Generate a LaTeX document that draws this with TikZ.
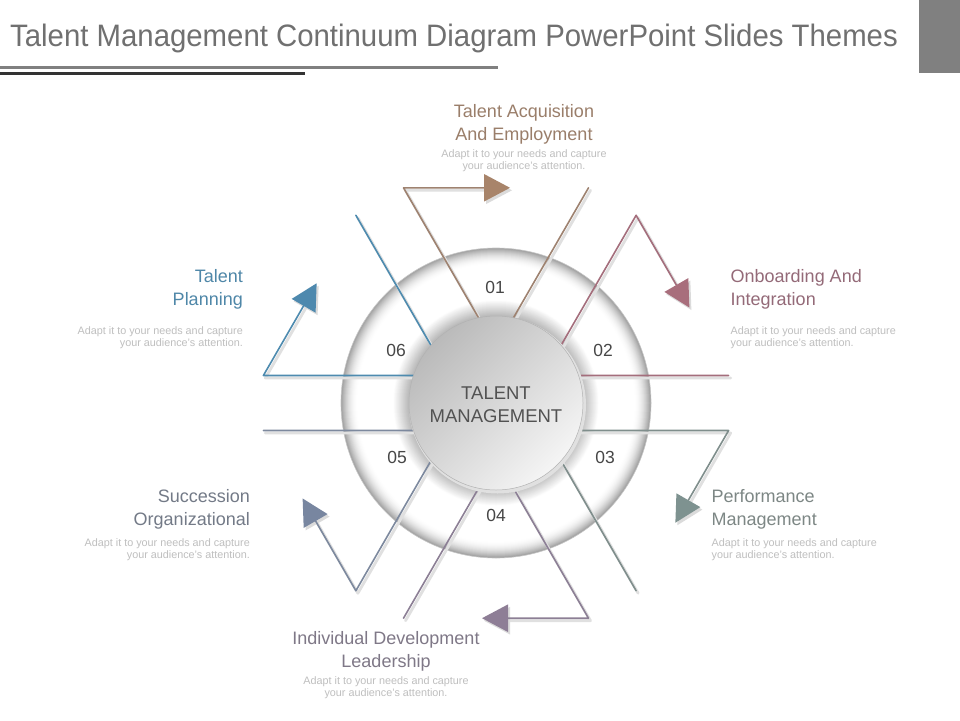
\documentclass[tikz,border=0pt]{standalone}
\usepackage{fontspec}
\setmainfont{Liberation Sans}
\definecolor{c1}{HTML}{9E8270}
\definecolor{c2}{HTML}{A46E7C}
\definecolor{c3}{HTML}{7F8E8C}
\definecolor{c4}{HTML}{8C7F95}
\definecolor{c5}{HTML}{7D899E}
\definecolor{c6}{HTML}{4E8BAF}
\definecolor{a1}{HTML}{A8846A}
\definecolor{a2}{HTML}{A86E7C}
\definecolor{a3}{HTML}{7E9290}
\definecolor{a4}{HTML}{8E7E96}
\definecolor{a5}{HTML}{7886A0}
\definecolor{a6}{HTML}{4E89AE}
\definecolor{t1}{HTML}{9A7E6A}
\definecolor{t2}{HTML}{946A78}
\definecolor{t3}{HTML}{7D8785}
\definecolor{t4}{HTML}{7F7887}
\definecolor{t5}{HTML}{737A87}
\definecolor{t6}{HTML}{4F87A8}
\tikzset{
  ttl/.style={font=\fontsize{18}{23}\selectfont, inner sep=0},
  dsc/.style={font=\fontsize{10.8}{12.5}\selectfont, text=black!25, inner sep=0},
  num/.style={font=\fontsize{17.5}{20}\selectfont, text=black!72, inner sep=0},
  seg/.style={line width=1.6pt, line join=round, line cap=round},
  segshadow/.style={line width=2.8pt, line join=round, line cap=round, draw=black!12},
}
\begin{document}
\begin{tikzpicture}[x=1pt,y=-1pt]
\useasboundingbox (0,0) rectangle (960,720);
\fill[white] (0,0) rectangle (960,720);
% header
\node[anchor=base west, text=black!56, inner sep=0] (title) at (10,46)
  {\scalebox{0.947}[1]{\fontsize{31}{31}\selectfont Talent Management Continuum Diagram PowerPoint Slides Themes}};
\fill[black!50] (0,66) rectangle (498,68.5);
\fill[black!80] (0,71.5) rectangle (305,75);
\fill[black!50] (919,0) rectangle (960,73);
% ring, drawn as concentric fills
\foreach \i in {0,...,134}{
  \pgfmathsetmacro\rr{155-\i*0.5}
  \pgfmathsetmacro\aa{max(0,(\rr-138)/17)}
  \pgfmathsetmacro\bb{max(0,(103-\rr)/16)}
  \pgfmathsetmacro\vv{38*\aa*\aa + 28*\bb}
  \fill[black!\vv] (496,403) circle[radius=\rr];
}
\draw[black!22, line width=0.6pt] (496,403) circle[radius=155];
% sectors
\foreach \k/\lc/\ac in {1/c1/a1,2/c2/a2,3/c3/a3,4/c4/a4,5/c5/a5,6/c6/a6}{
  \begin{scope}[shift={(498,405.5)}, rotate=-60*(\k-1)]
    \draw[segshadow] (0,-55) -- (-92.5,-215.2) -- (-12,-215.2);
    \draw[segshadow] (0,-55) -- (92.5,-215.2);
    \fill[black!14] (-12,-229) -- (14,-215.2) -- (-12,-201.4) -- cycle;
  \end{scope}
  \begin{scope}[shift={(496,403)}, rotate=-60*(\k-1)]
    \coordinate (apex\k) at (0,-55);
    \coordinate (left\k) at (-92.5,-215.2);
    \coordinate (right\k) at (92.5,-215.2);
    \coordinate (base\k) at (-12,-215.2);
    \draw[seg, draw=\lc] (apex\k) -- (left\k) -- (base\k);
    \draw[seg, draw=\lc] (apex\k) -- (right\k);
    \fill[\ac] (-12,-229) -- (14,-215.2) -- (-12,-201.4) -- cycle;
  \end{scope}
}
% inner circle
\fill[black!12] (497.5,405) circle[radius=88.5];
\shade[top color=black!27, bottom color=black!4, shading angle=45] (496,403) circle[radius=87];
\draw[black!30, line width=0.5pt] (496,403) circle[radius=87];
\node[font=\fontsize{18.5}{23}\selectfont, text=black!68, inner sep=0, anchor=base] (cen1) at (496,399) {TALENT};
\node[font=\fontsize{18.5}{23}\selectfont, text=black!68, inner sep=0, anchor=base] (cen2) at (496,422) {MANAGEMENT};
% numbers
\node[num] (n1) at (495,287.5) {01};
\node[num] (n2) at (603,350) {02};
\node[num] (n3) at (605,457.5) {03};
\node[num] (n4) at (496,515.5) {04};
\node[num] (n5) at (397,457.5) {05};
\node[num] (n6) at (396,350) {06};
% texts sector 1
\node[ttl, text=t1, anchor=base] (s1a) at (524,117) {Talent Acquisition};
\node[ttl, text=t1, anchor=base] (s1b) at (524,140) {And Employment};
\node[dsc, anchor=base] (d1a) at (524,157) {Adapt it to your needs and capture};
\node[dsc, anchor=base] (d1b) at (524,169) {your audience's attention.};
% sector 2
\node[ttl, text=t2, anchor=base west] (s2a) at (730.5,282) {Onboarding And};
\node[ttl, text=t2, anchor=base west] (s2b) at (730.5,305) {Integration};
\node[dsc, anchor=base west] (d2a) at (730.5,334) {Adapt it to your needs and capture};
\node[dsc, anchor=base west] (d2b) at (730.5,346.5) {your audience's attention.};
% sector 3
\node[ttl, text=t3, anchor=base west] (s3a) at (711.5,502) {Performance};
\node[ttl, text=t3, anchor=base west] (s3b) at (711.5,525) {Management};
\node[dsc, anchor=base west] (d3a) at (711.5,546) {Adapt it to your needs and capture};
\node[dsc, anchor=base west] (d3b) at (711.5,558.5) {your audience's attention.};
% sector 4
\node[ttl, text=t4, anchor=base] (s4a) at (386,644) {Individual Development};
\node[ttl, text=t4, anchor=base] (s4b) at (386,667) {Leadership};
\node[dsc, anchor=base] (d4a) at (386,684) {Adapt it to your needs and capture};
\node[dsc, anchor=base] (d4b) at (386,696.5) {your audience's attention.};
% sector 5
\node[ttl, text=t5, anchor=base east] (s5a) at (250,502) {Succession};
\node[ttl, text=t5, anchor=base east] (s5b) at (250,525) {Organizational};
\node[dsc, anchor=base east] (d5a) at (250,546) {Adapt it to your needs and capture};
\node[dsc, anchor=base east] (d5b) at (250,558.5) {your audience's attention.};
% sector 6
\node[ttl, text=t6, anchor=base east] (s6a) at (243,282) {Talent};
\node[ttl, text=t6, anchor=base east] (s6b) at (243,305) {Planning};
\node[dsc, anchor=base east] (d6a) at (243,334) {Adapt it to your needs and capture};
\node[dsc, anchor=base east] (d6b) at (243,346.5) {your audience's attention.};
\end{tikzpicture}
\end{document}
